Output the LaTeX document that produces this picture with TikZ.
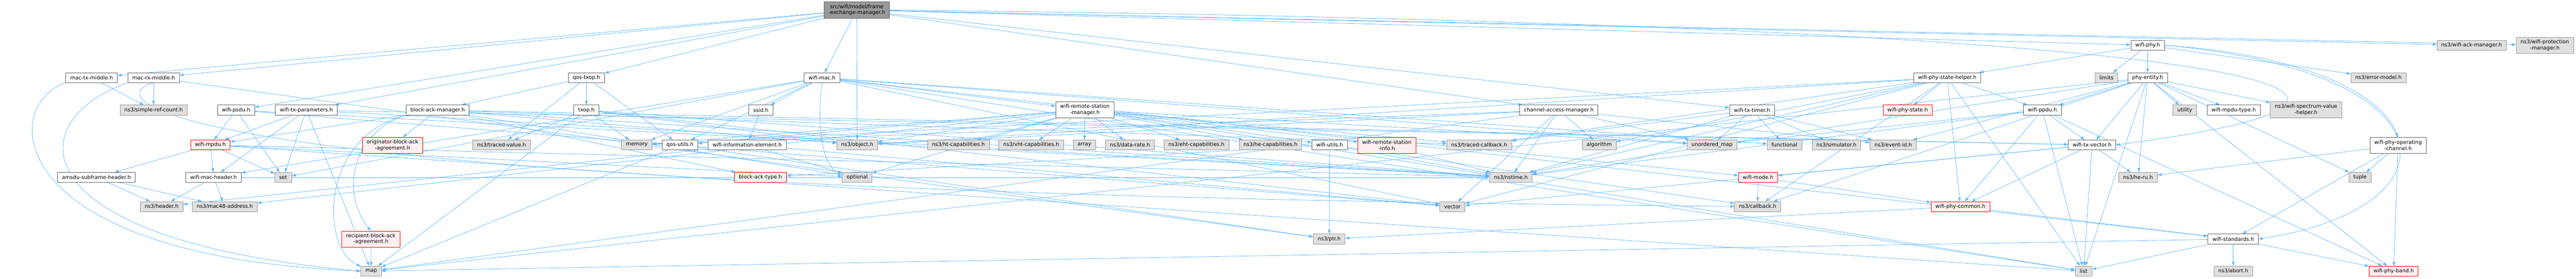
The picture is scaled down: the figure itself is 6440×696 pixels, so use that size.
\documentclass[tikz,border=0pt]{standalone}
\usepackage{fontspec}
\setmainfont{DejaVu Sans}
\usetikzlibrary{arrows.meta,backgrounds}
\definecolor{edgeblue}{HTML}{63B8FF}
\definecolor{extfill}{HTML}{E0E0E0}
\definecolor{extline}{HTML}{999999}
\definecolor{locline}{HTML}{666666}
\definecolor{cutfill}{HTML}{FFF0F0}
\definecolor{cutline}{HTML}{FF0000}
\definecolor{mainfill}{HTML}{999999}
\begin{document}
\begin{tikzpicture}[x=1pt,y=-1pt]

	% Styles for the header boxes
	\tikzstyle{hfile}=[
	rectangle,
	draw,
	line width=1pt,
	inner xsep=11pt,
	inner ysep=2pt,
	minimum height=25pt,
	align=center,
	font=\fontsize{13}{14.5}\selectfont
	]
	\tikzstyle{localh}=[hfile, draw=locline, fill=white]
	\tikzstyle{exth}=[hfile, draw=extline, fill=extfill]
	\tikzstyle{cuth}=[hfile, draw=cutline, fill=cutfill]
	\tikzstyle{mainh}=[hfile, draw=locline, fill=mainfill]
	\tikzstyle{tall}=[minimum height=40pt]
	\tikzstyle{incl}=[edgeblue, line width=1pt, -{Triangle[length=10pt,width=7pt]}]

	\useasboundingbox (0,0) rectangle (6440,696);

	% --- Top ---
	\node[mainh, tall] (fem) at (2142, 25) {src/wifi/model/frame\\-exchange-manager.h};

	% --- Second row ---
	\node[localh] (wifiphy) at (5369, 113) {wifi-phy.h};
	\node[exth] (wifiack) at (6179, 113) {ns3/wifi-ack-manager.h};
	\node[exth, tall] (wifiprot) at (6362, 113) {ns3/wifi-protection\\-manager.h};

	% --- Third row ---
	\node[localh] (mactx) at (229, 194) {mac-tx-middle.h};
	\node[localh] (macrx) at (384, 194) {mac-rx-middle.h};
	\node[localh] (qostxop) at (1466, 194) {qos-txop.h};
	\node[localh] (wifimac) at (2055, 194) {wifi-mac.h};
	\node[localh] (phystatehelper) at (4868, 194) {wifi-phy-state-helper.h};
	\node[exth] (limits) at (5266, 194) {limits};
	\node[localh] (phyentity) at (5369, 194) {phy-entity.h};
	\node[exth] (errmodel) at (5946, 194) {ns3/error-model.h};

	% --- Fourth row ---
	\node[exth] (simpleref) at (384, 275) {ns3/simple-ref-count.h};
	\node[localh] (wifipsdu) at (590, 275) {wifi-psdu.h};
	\node[localh] (txparams) at (766, 275) {wifi-tx-parameters.h};
	\node[localh] (bamgr) at (1094, 275) {block-ack-manager.h};
	\node[localh] (txop) at (1466, 275) {txop.h};
	\node[localh] (ssid) at (1902, 275) {ssid.h};
	\node[localh, tall] (wrsm) at (2712, 274) {wifi-remote-station\\-manager.h};
	\node[localh] (chaccess) at (3897, 275) {channel-access-manager.h};
	\node[localh] (txtimer) at (4380, 275) {wifi-tx-timer.h};
	\node[cuth] (phystate) at (4769, 275) {wifi-phy-state.h};
	\node[localh] (ppdu) at (5106, 275) {wifi-ppdu.h};
	\node[exth] (utility) at (5462, 275) {utility};
	\node[localh] (mpdutype) at (5584, 275) {wifi-mpdu-type.h};
	\node[exth, tall] (specvalue) at (5765, 274) {ns3/wifi-spectrum-value\\-helper.h};

	% --- Fifth row ---
	\node[cuth] (mpdu) at (526, 362) {wifi-mpdu.h};
	\node[cuth, tall] (origagr) at (981, 363) {originator-block-ack\\-agreement.h};
	\node[exth] (tracedvalue) at (1254, 362) {ns3/traced-value.h};
	\node[exth] (memory) at (1592, 362) {memory};
	\node[localh] (qosutils) at (1700, 362) {qos-utils.h};
	\node[localh] (infoelem) at (1868, 362) {wifi-information-element.h};
	\node[exth] (object) at (2143, 362) {ns3/object.h};
	\node[exth] (htcap) at (2396, 362) {ns3/ht-capabilities.h};
	\node[exth] (vhtcap) at (2578, 362) {ns3/vht-capabilities.h};
	\node[exth] (array) at (2711, 362) {array};
	\node[exth] (datarate) at (2825, 362) {ns3/data-rate.h};
	\node[exth] (ehtcap) at (2991, 362) {ns3/eht-capabilities.h};
	\node[exth] (hecap) at (3176, 362) {ns3/he-capabilities.h};
	\node[localh] (wifiutils) at (3324, 362) {wifi-utils.h};
	\node[cuth, tall] (wrsinfo) at (3467, 363) {wifi-remote-station\\-info.h};
	\node[exth] (tracedcb) at (3698, 362) {ns3/traced-callback.h};
	\node[exth] (algorithm) at (3998, 362) {algorithm};
	\node[exth] (umap) at (4280, 362) {unordered\_map};
	\node[exth] (functional) at (4461, 362) {functional};
	\node[exth] (simulator) at (4591, 362) {ns3/simulator.h};
	\node[exth] (eventid) at (4733, 362) {ns3/event-id.h};
	\node[localh] (txvector) at (5230, 362) {wifi-tx-vector.h};
	\node[localh, tall] (opchannel) at (5995, 363) {wifi-phy-operating\\-channel.h};

	% --- Sixth row ---
	\node[localh] (amsdu) at (241, 443) {amsdu-subframe-header.h};
	\node[localh] (macheader) at (534, 443) {wifi-mac-header.h};
	\node[exth] (set) at (708, 443) {set};
	\node[cuth] (batype) at (1901, 443) {block-ack-type.h};
	\node[exth] (optional) at (2143, 443) {optional};
	\node[exth] (nstime) at (3777, 443) {ns3/nstime.h};
	\node[cuth] (wifimode) at (4395, 443) {wifi-mode.h};
	\node[exth] (heru) at (5345, 443) {ns3/he-ru.h};
	\node[exth] (tuple) at (5900, 443) {tuple};

	% --- Seventh row ---
	\node[exth] (header) at (404, 516) {ns3/header.h};
	\node[exth] (mac48) at (562, 516) {ns3/mac48-address.h};
	\node[exth] (vector) at (3631, 516) {vector};
	\node[exth] (callback) at (4394, 516) {ns3/callback.h};
	\node[cuth] (phycommon) at (4901, 516) {wifi-phy-common.h};

	% --- Eighth row ---
	\node[cuth, tall] (recagr) at (927, 597) {recipient-block-ack\\-agreement.h};
	\node[exth] (ptr) at (3323, 597) {ns3/ptr.h};
	\node[localh] (standards) at (5583, 597) {wifi-standards.h};

	% --- Bottom row ---
	\node[exth] (map) at (928, 677) {map};
	\node[exth] (list) at (5209, 677) {list};
	\node[exth] (abort) at (5583, 677) {ns3/abort.h};
	\node[cuth] (phyband) at (5984, 677) {wifi-phy-band.h};

	\begin{pgfonlayer}{background}
	% --- Includes of the frame exchange manager ---
	\draw[incl] (fem) -- (mactx);
	\draw[incl] (fem) -- (macrx);
	\draw[incl] (fem) -- (wifipsdu);
	\draw[incl] (fem) -- (txparams);
	\draw[incl] (fem) -- (qostxop);
	\draw[incl] (fem) -- (wifimac);
	\draw[incl] (fem) -- (object);
	\draw[incl] (fem) -- (chaccess);
	\draw[incl] (fem) -- (txtimer);
	\draw[incl] (fem) -- (wifiphy);
	\draw[incl] (fem) -- (wifiack);
	\draw[incl] (fem) -- (wifiprot);
	\draw[incl] (fem.east) .. controls (5600,60) and (6300,230) .. (txvector.east);

	% --- MAC side ---
	\draw[incl] (mactx) -- (simpleref);
	\draw[incl] (mactx.south west) .. controls (0,260) and (0,640) .. (map.west);
	\draw[incl] (macrx) -- (simpleref);
	\draw[incl] (macrx.south west) .. controls (50,300) and (40,600) .. (map.west);
	\draw[incl] (macrx.south) .. controls (250,240) and (300,480) .. (callback);
	\draw[incl] (macrx) -- (ptr);
	\draw[incl] (qostxop) -- (bamgr);
	\draw[incl] (qostxop) -- (qosutils);
	\draw[incl] (qostxop) -- (txop);
	\draw[incl] (qostxop) -- (tracedvalue);
	\draw[incl] (txop) -- (tracedvalue);
	\draw[incl] (txop) -- (memory);
	\draw[incl] (txop) -- (object);
	\draw[incl] (txop) -- (nstime);
	\draw[incl] (txop) -- (map);
	\draw[incl] (txop) -- (vector);
	\draw[incl] (wifimac) -- (ssid);
	\draw[incl] (wifimac) -- (qosutils);
	\draw[incl] (wifimac) -- (wrsm);
	\draw[incl] (wifimac) -- (memory);
	\draw[incl] (wifimac.south) .. controls (2040,330) and (2060,420) .. (optional);
	\draw[incl] (wifimac) -- (set);
	\draw[incl] (wifimac) -- (vector);
	\draw[incl] (wifimac) -- (list);
	\draw[incl] (wifimac) -- (umap);
	\draw[incl] (wifimac) -- (functional);
	\draw[incl] (wifimac) -- (macheader);
	\draw[incl] (wifimac) -- (standards);
	\draw[incl] (wifipsdu) -- (mpdu);
	\draw[incl] (wifipsdu) -- (set);
	\draw[incl] (wifipsdu) -- (nstime);
	\draw[incl] (wifipsdu) -- (vector);
	\draw[incl] (txparams) -- (set);
	\draw[incl] (txparams) -- (macheader);
	\draw[incl] (txparams) -- (txvector);
	\draw[incl] (txparams) -- (nstime);
	\draw[incl] (txparams) -- (map);
	\draw[incl] (txparams) -- (mpdu);
	\draw[incl] (bamgr) -- (origagr);
	\draw[incl] (bamgr.south west) .. controls (880,330) and (850,480) .. (recagr.north);
	\draw[incl] (bamgr) -- (batype);
	\draw[incl] (bamgr) -- (mpdu);
	\draw[incl] (bamgr) -- (txvector);
	\draw[incl] (bamgr) -- (nstime);
	\draw[incl] (bamgr) -- (object);
	\draw[incl] (bamgr) -- (tracedcb);
	\draw[incl] (bamgr.south west) .. controls (800,340) and (800,620) .. (map);
	\draw[incl] (bamgr) -- (optional);
	\draw[incl] (mpdu) -- (amsdu);
	\draw[incl] (mpdu) -- (macheader);
	\draw[incl] (mpdu) -- (set);
	\draw[incl] (mpdu) -- (list);
	\draw[incl] (mpdu) -- (optional);
	\draw[incl] (mpdu) -- (nstime);
	\draw[incl] (amsdu) -- (header);
	\draw[incl] (amsdu) -- (mac48);
	\draw[incl] (macheader) -- (header);
	\draw[incl] (macheader) -- (mac48);
	\draw[incl] (macheader) -- (nstime);
	\draw[incl] (recagr) -- (map);
	\draw[incl] (ssid) -- (infoelem);
	\draw[incl] (infoelem) -- (header);
	\draw[incl] (infoelem) -- (optional);
	\draw[incl] (infoelem) -- (vector);
	\draw[incl] (qosutils) -- (ptr);
	\draw[incl] (qosutils) -- (map);

	% --- Remote station manager ---
	\draw[incl] (wrsm) -- (qosutils);
	\draw[incl] (wrsm) -- (wifimode);
	\draw[incl] (wrsm) -- (wrsinfo);
	\draw[incl] (wrsm) -- (wifiutils);
	\draw[incl] (wrsm) -- (datarate);
	\draw[incl] (wrsm) -- (ehtcap);
	\draw[incl] (wrsm) -- (hecap);
	\draw[incl] (wrsm) -- (htcap);
	\draw[incl] (wrsm) -- (vhtcap);
	\draw[incl] (wrsm) -- (array);
	\draw[incl] (wrsm) -- (mac48);
	\draw[incl] (wrsm) -- (object);
	\draw[incl] (wrsm) -- (tracedcb);
	\draw[incl] (wrsm) -- (list);
	\draw[incl] (wrsm) -- (memory);
	\draw[incl] (wrsm) -- (optional);
	\draw[incl] (wrsm) -- (umap);
	\draw[incl] (wifiutils) -- (batype);
	\draw[incl] (wifiutils) -- (nstime);
	\draw[incl] (wifiutils) -- (ptr);
	\draw[incl] (wifiutils) -- (callback);
	\draw[incl] (wrsinfo) -- (nstime);

	% --- Channel access and timer ---
	\draw[incl] (chaccess) -- (algorithm);
	\draw[incl] (chaccess) -- (nstime);
	\draw[incl] (chaccess) -- (eventid);
	\draw[incl] (chaccess) -- (object);
	\draw[incl] (chaccess) -- (map);
	\draw[incl] (chaccess) -- (memory);
	\draw[incl] (chaccess) -- (umap);
	\draw[incl] (chaccess) -- (vector);
	\draw[incl] (txtimer) -- (eventid);
	\draw[incl] (txtimer) -- (nstime);
	\draw[incl] (txtimer) -- (simulator);
	\draw[incl] (txtimer) -- (tracedcb);
	\draw[incl] (txtimer) -- (functional);
	\draw[incl] (txtimer) -- (umap);

	% --- PHY side ---
	\draw[incl] (wifimode) -- (callback);
	\draw[incl] (wifimode) -- (phycommon);
	\draw[incl] (phycommon) -- (standards);
	\draw[incl] (phycommon) -- (ptr);
	\draw[incl] (standards) -- (abort);
	\draw[incl] (standards) -- (phyband);
	\draw[incl] (standards) -- (list);
	\draw[incl] (standards) -- (map);
	\draw[incl] (txvector) -- (wifimode);
	\draw[incl] (txvector) -- (phycommon);
	\draw[incl] (txvector) -- (heru);
	\draw[incl] (txvector) -- (list);
	\draw[incl] (txvector) -- (vector);
	\draw[incl] (ppdu) -- (txvector);
	\draw[incl] (ppdu) -- (phycommon);
	\draw[incl] (ppdu) -- (phyband);
	\draw[incl] (ppdu) -- (nstime);
	\draw[incl] (ppdu) -- (list);
	\draw[incl] (ppdu) -- (umap);
	\draw[incl] (phystatehelper) -- (phystate);
	\draw[incl] (phystatehelper) -- (ppdu);
	\draw[incl] (phystatehelper) -- (phycommon);
	\draw[incl] (phystatehelper) -- (callback);
	\draw[incl] (phystatehelper) -- (nstime);
	\draw[incl] (phystatehelper) -- (object);
	\draw[incl] (phystatehelper) -- (tracedcb);
	\draw[incl] (phystatehelper) -- (algorithm);
	\draw[incl] (phystatehelper) -- (list);
	\draw[incl] (phystatehelper) -- (memory);
	\draw[incl] (phystatehelper) -- (vector);
	\draw[incl] (wifiphy) -- (phyentity);
	\draw[incl] (wifiphy) -- (phystatehelper);
	\draw[incl] (wifiphy) -- (errmodel);
	\draw[incl] (wifiphy) -- (limits);
	\draw[incl] (wifiphy.east) .. controls (5800,140) and (5960,250) .. (opchannel.north);
	\draw[incl] (wifiphy.east) .. controls (6150,180) and (6150,520) .. (standards.east);
	\draw[incl] (phyentity) -- (utility);
	\draw[incl] (phyentity) -- (mpdutype);
	\draw[incl] (phyentity) -- (specvalue);
	\draw[incl] (phyentity) -- (heru);
	\draw[incl] (phyentity) -- (txvector);
	\draw[incl] (phyentity) -- (ppdu);
	\draw[incl] (phyentity) -- (eventid);
	\draw[incl] (phyentity) -- (list);
	\draw[incl] (phyentity) -- (map);
	\draw[incl] (phyentity) -- (tuple);
	\draw[incl] (phyentity) -- (phyband);
	\draw[incl] (phyentity) -- (nstime);
	\draw[incl] (phyentity) -- (callback);
	\draw[incl] (opchannel) -- (tuple);
	\draw[incl] (opchannel) -- (phyband);
	\draw[incl] (opchannel) -- (heru);
	\draw[incl] (opchannel) -- (standards);
	\end{pgfonlayer}
\end{tikzpicture}
\end{document}
